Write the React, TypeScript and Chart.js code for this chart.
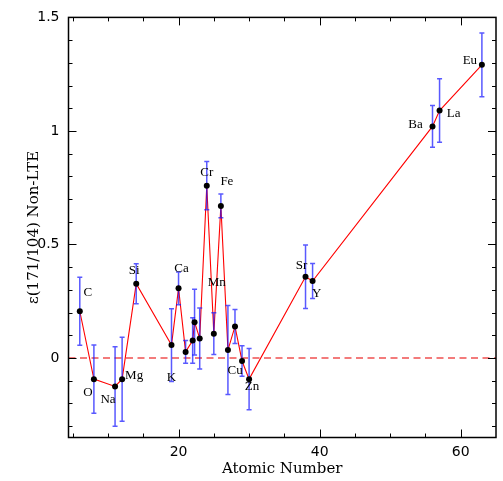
import React, { useEffect, useRef } from 'react';
import { Chart, registerables } from 'chart.js';

Chart.register(...registerables);

// Element symbols (empty string = unlabeled point)
const elements = ['C', 'O', 'Na', 'Mg', 'Si', 'K', 'Ca', '', '', '', '', 'Cr', 'Mn', 'Fe', '', '', 'Cu', 'Zn', 'Sr', 'Y', 'Ba', 'La', 'Eu'];
const atomicNumber = [6, 8, 11, 12, 14, 19, 20, 21, 22, 22.27, 23, 24, 25, 26, 27, 28, 29, 30, 38, 39, 56, 57, 63];
const epsilon = [0.206, -0.093, -0.125, -0.093, 0.327, 0.057, 0.307, 0.027, 0.077, 0.158, 0.086, 0.759, 0.107, 0.67, 0.035, 0.139, -0.013, -0.093, 0.358, 0.339, 1.02, 1.09, 1.291];
const epsilonErr = [0.15, 0.15, 0.175, 0.185, 0.088, 0.16, 0.072, 0.05, 0.1, 0.145, 0.134, 0.106, 0.092, 0.052, 0.196, 0.075, 0.067, 0.135, 0.14, 0.077, 0.092, 0.14, 0.14];

// Axis ranges and ticks
const xRange = [4.4, 65];
const yRange = [-0.35, 1.5];
const xMajorTicks = [20, 40, 60];
const xMinorTicks = [5, 10, 15, 25, 30, 35, 45, 50, 55];
const yMajorTicks = [0, 0.5, 1, 1.5];
const yMinorTicks = [-0.3, -0.2, -0.1, 0.1, 0.2, 0.3, 0.4, 0.6, 0.7, 0.8, 0.9, 1.1, 1.2, 1.3, 1.4];

// Where each symbol sits relative to its point (px)
const labelOffsets: Record<string, [number, number]> = {
  C: [8, -19], O: [-6, 13], Na: [-7, 13], Mg: [12, -4], Si: [-2, -13], K: [0, 33],
  Ca: [3, -20], Cr: [0, -13], Fe: [6, -24], Mn: [3, -51], Cu: [-7, 10], Zn: [3, 7],
  Sr: [-4, -11], Y: [4, 13], Ba: [-17, -2], La: [14, 3], Eu: [-12, -4],
};

const points = atomicNumber.map((x, i) => ({ x, y: epsilon[i] }));

const framePlugin = {
  id: 'frameTicks',
  beforeDatasetsDraw(chart: any) {
    const { ctx, chartArea: a, scales } = chart;
    const y0 = scales.y.getPixelForValue(0);
    ctx.save();
    ctx.strokeStyle = '#f05050';
    ctx.lineWidth = 1.5;
    ctx.setLineDash([7, 4.5]);
    ctx.beginPath();
    ctx.moveTo(a.left, y0);
    ctx.lineTo(a.right, y0);
    ctx.stroke();
    ctx.restore();
  },
  afterDatasetDraw(chart: any, args: any) {
    if (args.index !== 1) return;
    const { ctx, scales } = chart;
    ctx.save();
    ctx.strokeStyle = 'rgba(25,25,255,0.72)';
    ctx.lineWidth = 1.5;
    const cap = 2.5;
    atomicNumber.forEach((z, i) => {
      const px = scales.x.getPixelForValue(z);
      const top = scales.y.getPixelForValue(epsilon[i] + epsilonErr[i]);
      const bot = scales.y.getPixelForValue(epsilon[i] - epsilonErr[i]);
      ctx.beginPath();
      ctx.moveTo(px, top);
      ctx.lineTo(px, bot);
      ctx.moveTo(px - cap, top);
      ctx.lineTo(px + cap, top);
      ctx.moveTo(px - cap, bot);
      ctx.lineTo(px + cap, bot);
      ctx.stroke();
    });
    ctx.restore();
  },
  afterDatasetsDraw(chart: any) {
    const { ctx, chartArea: a, scales } = chart;
    ctx.save();
    // element symbols
    ctx.fillStyle = '#000';
    ctx.font = '13px "Liberation Serif", serif';
    ctx.textAlign = 'center';
    ctx.textBaseline = 'middle';
    elements.forEach((el, i) => {
      if (!el) return;
      const off = labelOffsets[el] || [0, 0];
      const px = scales.x.getPixelForValue(atomicNumber[i]);
      const py = scales.y.getPixelForValue(epsilon[i]);
      ctx.fillText(el, px + off[0], py + off[1]);
    });
    // frame
    ctx.strokeStyle = '#000';
    ctx.lineWidth = 1.5;
    ctx.strokeRect(a.left, a.top, a.right - a.left, a.bottom - a.top);
    // inward ticks on all four sides
    ctx.lineWidth = 1;
    const major = 8;
    const minor = 4;
    ctx.beginPath();
    const xt = (v: number, len: number) => {
      const p = Math.round(scales.x.getPixelForValue(v)) + 0.5;
      ctx.moveTo(p, a.bottom);
      ctx.lineTo(p, a.bottom - len);
      ctx.moveTo(p, a.top);
      ctx.lineTo(p, a.top + len);
    };
    const yt = (v: number, len: number) => {
      const p = Math.round(scales.y.getPixelForValue(v)) + 0.5;
      ctx.moveTo(a.left, p);
      ctx.lineTo(a.left + len, p);
      ctx.moveTo(a.right, p);
      ctx.lineTo(a.right - len, p);
    };
    xMajorTicks.forEach((v) => xt(v, major));
    xMinorTicks.forEach((v) => xt(v, minor));
    yMajorTicks.forEach((v) => yt(v, major));
    yMinorTicks.forEach((v) => yt(v, minor));
    ctx.stroke();
    ctx.restore();
  },
};

export default function App() {
  const canvasRef = useRef<HTMLCanvasElement>(null);

  useEffect(() => {
    if (!canvasRef.current) return;
    const chart = new Chart(canvasRef.current, {
      type: 'scatter',
      data: {
        datasets: [
          {
            data: points,
            showLine: false,
            pointRadius: 3,
            pointBackgroundColor: '#000',
            pointBorderWidth: 0,
          },
          {
            data: points,
            showLine: true,
            borderColor: '#ff0000',
            borderWidth: 1.1,
            pointRadius: 0,
          },
        ],
      },
      options: {
        animation: false,
        responsive: false,
        devicePixelRatio: 1,
        layout: { padding: { left: 0, right: 7, top: 13.5, bottom: 0 } },
        plugins: { legend: { display: false }, tooltip: { enabled: false } },
        scales: {
          x: {
            type: 'linear',
            min: xRange[0],
            max: xRange[1],
            grid: { display: false, drawTicks: false },
            border: { display: false },
            afterBuildTicks: (s: any) => { s.ticks = xMajorTicks.map((v) => ({ value: v })); },
            afterFit: (s: any) => { s.height = 43.5; },
            ticks: {
              color: '#000',
              font: { family: '"DejaVu Sans", sans-serif', size: 14 },
              padding: 6,
              maxRotation: 0,
              autoSkip: false,
              callback: (v: any) => String(v),
            },
            title: {
              display: true,
              text: 'Atomic Number',
              color: '#000',
              font: { family: '"DejaVu Serif", serif', size: 15 },
              padding: { top: 0, bottom: 3 },
            },
          },
          y: {
            type: 'linear',
            min: yRange[0],
            max: yRange[1],
            grid: { display: false, drawTicks: false },
            border: { display: false },
            afterBuildTicks: (s: any) => { s.ticks = yMajorTicks.map((v) => ({ value: v })); },
            afterFit: (s: any) => { s.width = 68.5; },
            ticks: {
              color: '#000',
              font: { family: '"DejaVu Sans", sans-serif', size: 14 },
              padding: 9,
              callback: (v: any) => String(v),
            },
            title: {
              display: true,
              text: 'ε(171/104) Non-LTE',
              color: '#000',
              font: { family: '"DejaVu Serif", serif', size: 15 },
              padding: { top: 25, bottom: 0 },
            },
          },
        },
      },
      plugins: [framePlugin],
    });
    return () => chart.destroy();
  }, []);

  return (
    <div style={{ position: 'absolute', left: 0, top: 0, width: 503, height: 481 }}>
      <canvas ref={canvasRef} width={503} height={481} />
    </div>
  );
}
